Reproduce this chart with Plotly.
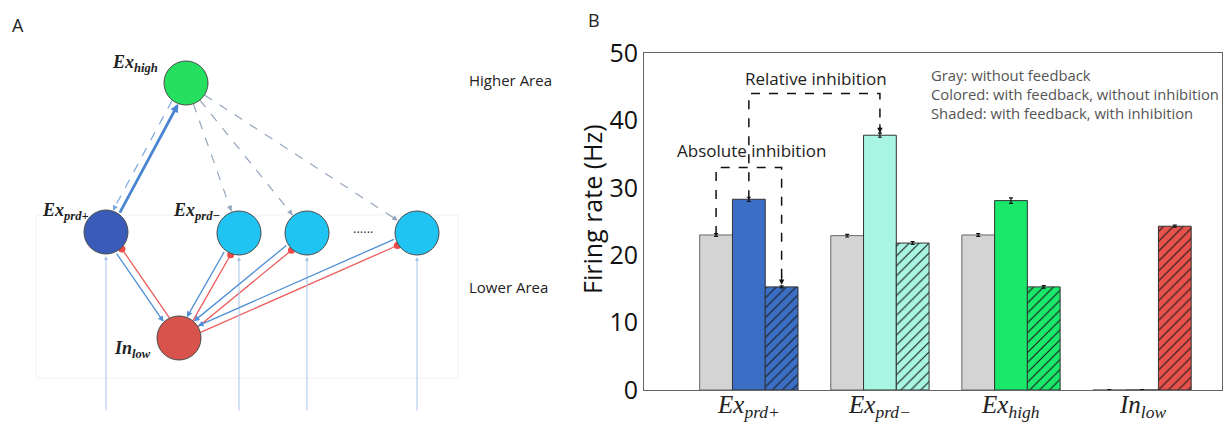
import math
import plotly.graph_objects as go

W, H = 1231, 423

# ---------------- Panel B data ----------------
categories = [0, 1, 2, 3]
tick_labels = [
    "<i>Ex</i><sub><i>prd+</i></sub>",
    "<i>Ex</i><sub><i>prd\u2212</i></sub>",
    "<i>Ex</i><sub><i>high</i></sub>",
    "<i>In</i><sub><i>low</i></sub>",
]
y_ticks = [0, 10, 20, 30, 40, 50]
gray_values = [23.0, 22.9, 23.0, 0.0]
colored_values = [28.3, 37.8, 28.1, 0.0]
shaded_values = [15.3, 21.8, 15.3, 24.3]
gray_err = [0.2, 0.2, 0.2, 0.05]
colored_err = [0.3, 0.3, 0.4, 0.05]
shaded_err = [0.15, 0.2, 0.2, 0.15]
group_colors = ["#3b6fc6", "#a8f6e2", "#19e86a", "#e8524c"]
gray_color = "#d4d4d4"
legend_lines = [
    "Gray: without feedback",
    "Colored: with feedback, without inhibition",
    "Shaded: with feedback, with inhibition",
]
abs_level = 33.0
rel_level = 44.0

# ---------------- Panel A data ----------------
node_names = ["Ex_high", "Ex_prd+", "Ex_prd-", "Ex_3", "Ex_n", "In_low"]
node_x = [186, 106, 239, 307, 417, 179]
node_y = [83, 232, 233, 233, 233, 338]
node_colors = ["#24e05e", "#3a5cb8", "#1fc4f2", "#1fc4f2", "#1fc4f2", "#d8534c"]
node_r = 22
lower_nodes = [1, 2, 3, 4]
node_labels = {
    0: ("<b><i>Ex</i><sub><i>high</i></sub></b>", 135, 63),
    1: ("<b><i>Ex</i><sub><i>prd+</i></sub></b>", 65, 211),
    2: ("<b><i>Ex</i><sub><i>prd\u2212</i></sub></b>", 196, 211),
    5: ("<b><i>In</i><sub><i>low</i></sub></b>", 132, 349),
}

fig = go.Figure()

# ---------- Panel B bars ----------
fig.add_trace(go.Bar(
    x=categories, y=gray_values, name="gray", offsetgroup="gray",
    marker=dict(color=gray_color, line=dict(color="#666", width=1)),
    error_y=dict(type="data", array=gray_err, color="#111", thickness=1.2, width=2),
    xaxis="x", yaxis="y", showlegend=False))
fig.add_trace(go.Bar(
    x=categories, y=colored_values, name="colored", offsetgroup="colored",
    marker=dict(color=group_colors, line=dict(color="#333", width=1)),
    error_y=dict(type="data", array=colored_err, color="#111", thickness=1.2, width=2),
    xaxis="x", yaxis="y", showlegend=False))
for c, v, e, col in zip(categories, shaded_values, shaded_err, group_colors):
    fig.add_trace(go.Bar(
        x=[c], y=[v], name="shaded", offsetgroup="shaded",
        marker=dict(color=col, line=dict(color="#333", width=1),
                    pattern=dict(shape="/", fgcolor="#1a1a1a", bgcolor=col,
                                 fillmode="replace", size=7, solidity=0.16)),
        error_y=dict(type="data", array=[e], color="#111", thickness=1.2, width=2),
        xaxis="x", yaxis="y", showlegend=False))

# brackets
bw = 0.25
fig.add_trace(go.Scatter(
    x=[categories[0] - bw, categories[0] - bw, categories[0] + bw, categories[0] + bw],
    y=[gray_values[0], abs_level, abs_level, shaded_values[0] + 0.4],
    mode="lines", line=dict(color="#111", width=1.5, dash="dash"),
    xaxis="x", yaxis="y", showlegend=False, hoverinfo="skip"))
fig.add_trace(go.Scatter(
    x=[categories[0], categories[0], categories[1], categories[1]],
    y=[colored_values[0], rel_level, rel_level, colored_values[1] + 0.4],
    mode="lines", line=dict(color="#111", width=1.5, dash="dash"),
    xaxis="x", yaxis="y", showlegend=False, hoverinfo="skip"))

annotations = []
for hx, hy in [(categories[0] + bw, shaded_values[0] + 0.3), (categories[1], colored_values[1] + 0.3)]:
    annotations.append(dict(x=hx, y=hy, ax=hx, ay=hy + 1.6, xref="x", yref="y",
                            axref="x", ayref="y", text="", showarrow=True,
                            arrowhead=2, arrowsize=0.9, arrowwidth=1.2, arrowcolor="#111", standoff=0))

annotations.append(dict(x=(categories[0] + categories[1]) / 2 + 0.01, y=rel_level + 2.2, xref="x", yref="y",
                        text="Relative inhibition", showarrow=False,
                        font=dict(family="Open Sans", size=17, color="#222")))
annotations.append(dict(x=categories[0] + 0.02, y=abs_level + 2.5, xref="x", yref="y",
                        text="Absolute inhibition", showarrow=False,
                        font=dict(family="Open Sans", size=17, color="#222")))
for i, t in enumerate(legend_lines):
    annotations.append(dict(x=929 / W, y=1 - (75 + 19 * i) / H, xref="paper", yref="paper",
                            xanchor="left", yanchor="middle", text=t, showarrow=False,
                            font=dict(family="Open Sans", size=14.8, color="#555")))

# category labels under the axis
for c, t in zip(categories, tick_labels):
    annotations.append(dict(x=c, y=1 - 406 / H, xref="x", yref="paper", text=t, showarrow=False,
                            yanchor="middle",
                            font=dict(family="Liberation Serif", size=25, color="#222")))

# y-axis title
annotations.append(dict(x=592 / W, y=1 - 209 / H, xref="paper", yref="paper", text="Firing rate (Hz)",
                        textangle=-90, showarrow=False, xanchor="center", yanchor="middle",
                        font=dict(family="Open Sans", size=25, color="#111")))

annotations.append(dict(x=586 / W, y=1 - 20 / H, xref="paper", yref="paper", xanchor="left",
                        yanchor="middle", text="B", showarrow=False,
                        font=dict(family="Open Sans", size=18, color="#222")))
annotations.append(dict(x=10 / W, y=1 - 25 / H, xref="paper", yref="paper", xanchor="left",
                        yanchor="middle", text="A", showarrow=False,
                        font=dict(family="Open Sans", size=18, color="#222")))

# ---------- Panel A diagram ----------
def seg(i, j, off, r1=node_r, r2=node_r):
    x1, y1, x2, y2 = node_x[i], node_y[i], node_x[j], node_y[j]
    L = math.hypot(x2 - x1, y2 - y1)
    dx, dy = (x2 - x1) / L, (y2 - y1) / L
    nx, ny = -dy, dx
    sx, sy = x1 + dx * r1 + nx * off, y1 + dy * r1 + ny * off
    ex, ey = x2 - dx * r2 + nx * off, y2 - dy * r2 + ny * off
    return sx, sy, ex, ey, dx, dy

shapes = []
# faint background box of the lower area
shapes.append(dict(type="rect", xref="x2", yref="y2", x0=36, y0=215, x1=458, y1=378,
                   line=dict(color="#eef2f7", width=1), fillcolor="rgba(0,0,0,0)", layer="below"))

def arrow(x, y, ax, ay, color, width, size=1.0):
    annotations.append(dict(x=x, y=y, ax=ax, ay=ay, xref="x2", yref="y2", axref="x2", ayref="y2",
                            text="", showarrow=True, arrowhead=2, arrowsize=size,
                            arrowwidth=width, arrowcolor=color, standoff=0))

# input lines
for k in lower_nodes:
    arrow(node_x[k], node_y[k] + node_r + 2, node_x[k], 412, "#a6c3ea", 1.0, 0.8)

# Ex_prd+ <-> Ex_high
sx, sy, ex, ey, dx, dy = seg(1, 0, 3)
arrow(ex, ey, sx, sy, "#4a86d2", 2.8, 0.6)
sx, sy, ex, ey, dx, dy = seg(0, 1, 4)
fig.add_trace(go.Scatter(x=[sx, ex], y=[sy, ey], mode="lines",
                         line=dict(color="#7aa8e0", width=1.2, dash="dash"),
                         xaxis="x2", yaxis="y2", showlegend=False, hoverinfo="skip"))
arrow(ex, ey, ex - dx * 7, ey - dy * 7, "#7aa8e0", 1.2, 0.9)

# Ex_high -> other lower nodes (dashed)
for k in [2, 3, 4]:
    sx, sy, ex, ey, dx, dy = seg(0, k, 0, node_r, node_r + 1)
    fig.add_trace(go.Scatter(x=[sx, ex], y=[sy, ey], mode="lines",
                             line=dict(color="#94a6bd", width=1.2, dash="dash"),
                             xaxis="x2", yaxis="y2", showlegend=False, hoverinfo="skip"))
    arrow(ex, ey, ex - dx * 7, ey - dy * 7, "#94a6bd", 1.2, 0.9)

# lower nodes <-> In_low
for k in lower_nodes:
    sx, sy, ex, ey, dx, dy = seg(k, 5, 3.5)
    arrow(ex, ey, sx, sy, "#4f8fd6", 1.3, 0.9)
    sx, sy, ex, ey, dx, dy = seg(5, k, 3.5, node_r, node_r + 1)
    fig.add_trace(go.Scatter(x=[sx, ex], y=[sy, ey], mode="lines",
                             line=dict(color="#ee5a5a", width=1.3),
                             xaxis="x2", yaxis="y2", showlegend=False, hoverinfo="skip"))
    fig.add_trace(go.Scatter(x=[ex], y=[ey], mode="markers",
                             marker=dict(color="#ee4a4a", size=7),
                             xaxis="x2", yaxis="y2", showlegend=False, hoverinfo="skip"))

# nodes
fig.add_trace(go.Scatter(x=node_x, y=node_y, mode="markers", text=node_names,
                         marker=dict(color=node_colors, size=2 * node_r,
                                     line=dict(color="#4a4a4a", width=1)),
                         xaxis="x2", yaxis="y2", showlegend=False, hoverinfo="text"))

for k, (t, lx, ly) in node_labels.items():
    annotations.append(dict(x=lx, y=ly, xref="x2", yref="y2", text=t, showarrow=False,
                            font=dict(family="Liberation Serif", size=18, color="#222")))
annotations.append(dict(x=363, y=228, xref="x2", yref="y2", text="......", showarrow=False,
                        font=dict(family="Open Sans", size=13, color="#333")))
annotations.append(dict(x=467, y=80, xref="x2", yref="y2", text="Higher Area", showarrow=False,
                        xanchor="left", font=dict(family="Open Sans", size=15, color="#222")))
annotations.append(dict(x=467, y=287, xref="x2", yref="y2", text="Lower Area", showarrow=False,
                        xanchor="left", font=dict(family="Open Sans", size=15, color="#222")))

fig.update_layout(
    width=W, height=H, margin=dict(l=0, r=0, t=0, b=0),
    paper_bgcolor="white", plot_bgcolor="white",
    barmode="group", bargap=0.25, bargroupgap=0,
    xaxis=dict(domain=[644 / W, 1222 / W], range=[-0.8, 3.61], tickvals=categories,
               showticklabels=False, showgrid=False, zeroline=False, showline=True,
               linecolor="#666", linewidth=1, mirror=True, ticks="", automargin=False),
    yaxis=dict(domain=[1 - 390 / H, 1 - 53 / H], range=[0, 50], tickvals=y_ticks,
               showgrid=False, zeroline=False, showline=True, linecolor="#666", linewidth=1,
               mirror=True, ticks="", ticklen=0,
               tickfont=dict(family="Open Sans", size=25, color="#111"), automargin=False),
    xaxis2=dict(domain=[0, 470 / W], range=[0, 470], visible=False, fixedrange=True),
    yaxis2=dict(domain=[0, 1], range=[423, 0], visible=False, fixedrange=True),
    shapes=shapes, annotations=annotations,
)

fig.write_html("out.html", config={"displayModeBar": False},
               post_script="document.body.style.margin='0px';")
